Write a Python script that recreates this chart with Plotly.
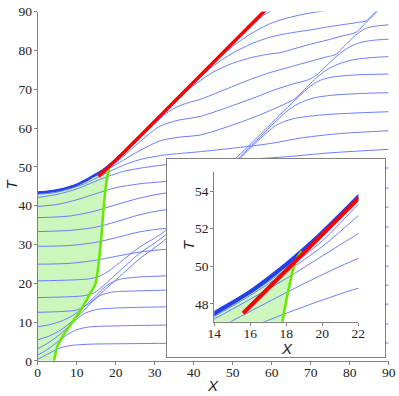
import plotly.graph_objects as go

W, H = 399, 396

# ---------------- data ----------------
main_x_ticks = [0, 10, 20, 30, 40, 50, 60, 70, 80, 90]
main_t_ticks = [0, 10, 20, 30, 40, 50, 60, 70, 80, 90]
inset_x_ticks = [14, 16, 18, 20, 22]
inset_t_ticks = [48, 50, 52, 54]

# upper envelope (thick blue)
env_x = [0, 2, 4, 6, 8, 10, 12, 14, 16, 18, 18.85, 20, 22, 24, 26]
env_t = [43.4, 43.5, 43.75, 44.15, 44.7, 45.35, 46.35, 47.5, 48.65, 50.1, 50.8, 51.8, 53.7, 55.68, 57.65]

# green boundary curve
green_x = [4.2, 5.0, 6.6, 8.7, 10.8, 13.0, 14.8, 15.5, 16.0, 16.4, 16.8, 17.25, 17.6, 17.78, 18.1, 18.5, 18.85]
green_t = [0.0, 3.6, 6.6, 9.7, 12.7, 16.5, 19.8, 24.0, 28.6, 33.0, 38.0, 43.0, 46.0, 47.05, 48.65, 50.25, 50.8]

# red line
red_x = [15.6, 22.0, 58.4]
red_t = [47.5, 53.6, 90.4]

# thin blue curves (X, T)
la_x = [0, 2, 4, 6, 9, 14, 22, 32.6, 60, 90]
la_t = [0.4, 1.4, 2.5, 3.4, 4.0, 4.3, 4.4, 4.5, 4.55, 4.6]
lb_x = [0, 2, 4, 6, 8, 10, 13, 20, 32.6, 90]
lb_t = [1.5, 2.6, 4.0, 5.6, 7.0, 8.0, 8.7, 9.0, 9.2, 9.5]
lc_x = [0, 2, 4, 6, 8, 10, 12, 15, 20, 32.6, 90]
lc_t = [3.1, 4.2, 5.5, 7.1, 8.9, 10.7, 12.2, 13.2, 13.6, 13.9, 14.6]
ld_x = [0, 3, 6, 9, 12, 14, 16, 19, 25, 32.6, 90]
ld_t = [5.4, 6.4, 8.0, 10.3, 13.1, 15.2, 16.8, 17.7, 18.0, 18.2, 19.5]
le_x = [0, 3, 6, 9, 12, 15, 18, 21, 26, 32.6, 50, 90]
le_t = [8.8, 9.3, 10.2, 11.7, 14.0, 16.9, 19.6, 21.0, 21.6, 21.9, 23.3, 24.4]

b3_x = [0, 6, 10, 12.5, 15, 18, 22, 26, 32.6, 40, 46, 50, 54, 57, 59, 61, 63, 66, 72, 80, 90]
b3_t = [12.5, 12.7, 13.1, 14.3, 16.3, 19.0, 22.6, 26.2, 31.2, 39.2, 45.9, 50.2, 54.3, 57.2, 59.0, 60.6, 61.6, 62.5, 63.3, 63.8, 64.2]
b2_x = [0, 8, 12, 14.5, 17, 20, 26, 32.6, 40, 46, 50, 54, 58, 62, 64, 66, 68, 71, 76, 83, 90]
b2_t = [16.3, 16.5, 16.8, 17.5, 19.5, 22.2, 27.6, 32.3, 40.3, 46.6, 50.7, 54.7, 58.7, 62.6, 64.4, 65.8, 66.8, 67.8, 68.5, 68.9, 69.1]
b1_x = [0, 8, 13, 15.5, 18, 21, 26, 32.6, 40, 46, 50, 54, 58, 62, 66, 69, 71, 73, 76, 82, 90]
b1_t = [20.6, 20.8, 21.1, 21.7, 23.0, 25.3, 29.2, 33.4, 41.3, 47.4, 51.4, 55.3, 59.3, 63.3, 67.2, 70.0, 71.5, 72.5, 73.2, 73.7, 73.9]

u_x = [0, 8, 14.7, 20, 26, 32.6, 50, 90]
u6_t = [24.9, 25.1, 25.9, 26.9, 28.0, 28.7, 29.2, 29.6]
u5_t = [29.5, 29.7, 30.5, 31.7, 33.2, 34.1, 34.3, 34.5]
u4_t = [33.3, 33.6, 34.4, 35.8, 37.6, 38.9, 39.3, 39.6]
u3_t = [36.9, 37.3, 38.6, 40.2, 41.9, 43.2, 44.0, 44.5]
u2_x = [0, 5, 10, 14.7, 20, 26, 32.6, 50, 70, 90]
u2_t = [39.8, 40.3, 41.5, 43.0, 44.6, 45.6, 46.2, 47.5, 48.9, 49.7]
u1_x = [0, 5, 10, 14.7, 16.8, 18, 20, 22, 26, 32.6, 45, 55, 63.8, 75, 90]
u1_t = [42.1, 42.9, 44.3, 46.2, 47.05, 47.5, 48.2, 48.83, 49.6, 50.5, 51.4, 52.0, 52.6, 53.6, 54.5]

h_x = [0, 4, 8, 12, 14.9, 16, 18, 20, 22, 26, 32.2, 41.7, 50, 59.6, 68, 78, 90]
h_t = [42.95, 43.3, 44.25, 45.65, 47.05, 47.6, 48.6, 49.55, 50.42, 51.8, 53.0, 53.9, 54.8, 56.0, 57.5, 58.6, 59.3]
g_x = [0, 6, 12, 14, 16, 18, 20, 22, 26, 31.4, 36, 41.7, 48, 55, 59.6, 62.1, 64, 66, 68, 70, 72, 74, 76, 78, 81, 85, 90]
g_t = [43.2, 44.0, 46.1, 47.19, 48.25, 49.35, 50.55, 51.74, 54.1, 56.7, 57.6, 58.2, 60.1, 62.6, 64.5, 65.6, 66.5, 67.6, 69.5, 71.5, 73.4, 74.9, 76.0, 76.8, 77.6, 78.1, 78.4]
f_x = [0, 6, 12, 14, 16, 18, 20, 22, 26, 28, 31.4, 36, 41.7, 50, 55, 59.6, 62.1, 66, 69, 71, 73, 75, 77, 79, 81, 83, 86, 90]
f_t = [43.25, 44.05, 46.2, 47.33, 48.45, 49.7, 51.05, 52.7, 56.3, 58.0, 60.5, 62.0, 63.0, 65.8, 67.6, 69.4, 70.3, 71.5, 72.3, 73.3, 75.0, 77.0, 78.8, 80.3, 81.4, 82.1, 82.6, 82.9]
e_x = [0, 6, 12, 14, 16, 18, 20, 22, 26, 30, 33, 35.6, 38.5, 41.7, 48, 55, 59.6, 62.1, 66, 70, 74, 76.5, 78.5, 80.5, 82.5, 84.5, 87, 90]
e_t = [43.3, 44.1, 46.25, 47.42, 48.55, 49.85, 51.35, 53.3, 57.2, 61.1, 63.8, 65.4, 66.5, 67.4, 69.9, 72.7, 74.3, 75.0, 76.1, 77.2, 78.3, 79.0, 81.0, 83.0, 84.7, 85.8, 86.3, 86.6]
d_x = [0, 6, 12, 16, 20, 22, 30, 36, 39, 41.7, 45, 50, 55, 59.6, 62.1, 66, 70, 74, 78, 81.7, 83.5, 85.5, 87.5]
d_t = [43.35, 44.1, 46.3, 48.6, 51.75, 53.5, 61.5, 67.4, 70.2, 72.2, 74.4, 76.7, 78.2, 79.1, 79.4, 80.5, 81.6, 82.6, 83.7, 84.7, 86.5, 88.5, 90.5]
c_x = [0, 6, 12, 16, 20, 22, 30, 38, 42, 46, 50, 55, 59.6, 62.1, 66, 70, 74, 78, 82, 84.2, 85.7, 87.2]
c_t = [43.35, 44.12, 46.32, 48.62, 51.77, 53.55, 61.6, 69.6, 73.4, 76.7, 79.3, 81.8, 83.4, 84.0, 84.7, 85.3, 86.0, 86.6, 87.2, 87.6, 89.0, 90.5]
b_x = [0, 6, 12, 16, 20, 22, 30, 40, 46, 50, 54, 57, 59.6, 62.1, 68, 75.5]
b_t = [43.38, 44.14, 46.34, 48.64, 51.78, 53.58, 61.65, 71.75, 77.6, 81.0, 83.9, 85.6, 86.9, 87.8, 89.3, 90.5]
a_x = [0, 6, 12, 16, 20, 22, 30, 40, 50, 55, 58, 60.3]
a_t = [43.38, 44.14, 46.34, 48.64, 51.78, 53.6, 61.66, 71.68, 81.75, 86.5, 89.1, 90.5]

thin_curves = [
    (la_x, la_t), (lb_x, lb_t), (lc_x, lc_t), (ld_x, ld_t), (le_x, le_t),
    (b3_x, b3_t), (b2_x, b2_t), (b1_x, b1_t),
    (u_x, u6_t), (u_x, u5_t), (u_x, u4_t), (u_x, u3_t), (u2_x, u2_t), (u1_x, u1_t),
    (h_x, h_t), (g_x, g_t), (f_x, f_t), (e_x, e_t), (d_x, d_t), (c_x, c_t), (b_x, b_t), (a_x, a_t),
]

# ---------------- styling ----------------
THIN = "rgb(105,125,255)"
THICK = "rgb(35,65,235)"
RED = "rgb(255,0,0)"
GREEN = "rgb(100,235,0)"
FILL = "rgb(204,246,188)"
AXC = "#808080"
TICKFONT = dict(family="Liberation Serif", size=13.5, color="#222")

# green region polygon: left edge, green curve, back along envelope
fill_x = [0.0] + green_x + [x for x in env_x if x < green_x[-1]][::-1]
fill_t = [0.0] + green_t + [t for x, t in zip(env_x, env_t) if x < green_x[-1]][::-1]

fig = go.Figure()


def add_set(xa, ya, thick_w, red_w, green_w):
    fig.add_trace(go.Scatter(x=fill_x, y=fill_t, mode="lines", fill="toself", fillcolor=FILL,
                             line=dict(width=0, color=FILL), xaxis=xa, yaxis=ya,
                             showlegend=False, hoverinfo="skip"))
    for cx, ct in thin_curves:
        fig.add_trace(go.Scatter(x=cx, y=ct, mode="lines",
                                 line=dict(color=THIN, width=1, shape="spline", smoothing=0.8),
                                 xaxis=xa, yaxis=ya, showlegend=False, hoverinfo="skip"))
    fig.add_trace(go.Scatter(x=env_x, y=env_t, mode="lines",
                             line=dict(color=THICK, width=thick_w, shape="spline", smoothing=0.8),
                             xaxis=xa, yaxis=ya, showlegend=False, hoverinfo="skip"))
    fig.add_trace(go.Scatter(x=green_x, y=green_t, mode="lines",
                             line=dict(color=GREEN, width=green_w, shape="spline", smoothing=0.6),
                             xaxis=xa, yaxis=ya, showlegend=False, hoverinfo="skip"))
    fig.add_trace(go.Scatter(x=red_x, y=red_t, mode="lines",
                             line=dict(color=RED, width=red_w),
                             xaxis=xa, yaxis=ya, showlegend=False, hoverinfo="skip"))


add_set("x", "y", 2.5, 3.5, 2.5)
# frame subplot (blank white box)
fig.add_trace(go.Scatter(x=[None], y=[None], xaxis="x2", yaxis="y2", showlegend=False, hoverinfo="skip"))
add_set("x3", "y3", 4, 4, 2.5)


def px_x(p):
    return p / W


def px_y(p):
    return (H - p) / H


axis_common = dict(showline=True, linecolor=AXC, linewidth=1, ticks="outside", ticklen=3,
                   tickcolor=AXC, tickwidth=1, showgrid=False, zeroline=False,
                   tickfont=TICKFONT, fixedrange=True, automargin=False)
frame_common = dict(range=[0, 1], showline=True, mirror=True, linecolor=AXC, linewidth=1,
                    showticklabels=False, ticks="", showgrid=False, zeroline=False,
                    fixedrange=True, automargin=False)

fig.update_layout(
    width=W, height=H, autosize=False,
    margin=dict(l=0, r=0, t=0, b=0, autoexpand=False),
    paper_bgcolor="white", plot_bgcolor="white",
    xaxis=dict(domain=[px_x(37.7), px_x(388.7)], range=[0, 90], tickvals=main_x_ticks,
               anchor="y", ticklabelstandoff=-4, **axis_common),
    yaxis=dict(domain=[px_y(360.8), px_y(11.6)], range=[0, 90], tickvals=main_t_ticks,
               anchor="x", ticklabelstandoff=-1, **axis_common),
    xaxis2=dict(domain=[px_x(166.7), px_x(385)], anchor="y2", **frame_common),
    yaxis2=dict(domain=[px_y(356.7), px_y(158.7)], anchor="x2", **frame_common),
    xaxis3=dict(domain=[px_x(214.3), px_x(358.3)], range=[14, 22], tickvals=inset_x_ticks,
                anchor="y3", ticklabelstandoff=-4, **axis_common),
    yaxis3=dict(domain=[px_y(321.7), px_y(172.3)], range=[47.05, 55], tickvals=inset_t_ticks,
                anchor="x3", ticklabelstandoff=-1, **axis_common),
)

TITLEFONT = dict(family="Liberation Sans", size=15, color="#222")
for txt, x, y, ang in [("X", 213, 385, 0), ("T", 10.5, 184, -90),
                       ("X", 287.3, 348, 0), ("T", 188, 245, -90)]:
    fig.add_annotation(text="<i>%s</i>" % txt, x=px_x(x), y=px_y(y), xref="paper", yref="paper",
                       showarrow=False, textangle=ang, font=TITLEFONT,
                       xanchor="center", yanchor="middle")

fig.write_html("out.html", config={"displayModeBar": False},
               post_script="document.body.style.margin='0px';document.body.style.padding='0px';")
